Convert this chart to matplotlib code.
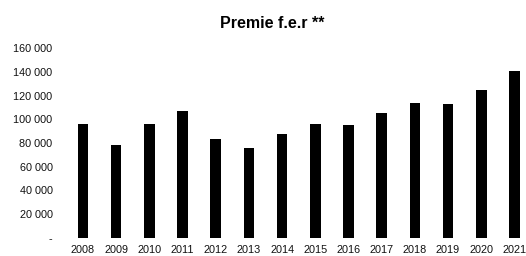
import matplotlib
matplotlib.use("Agg")
import matplotlib.pyplot as plt
from matplotlib.ticker import FuncFormatter

plt.rcParams['font.family'] = ['Liberation Sans', 'DejaVu Sans']

years = ['2008', '2009', '2010', '2011', '2012', '2013', '2014',
         '2015', '2016', '2017', '2018', '2019', '2020', '2021']
premie = [96000, 78000, 96000, 107000, 83500, 75500, 88000,
          96000, 95000, 105000, 114000, 112500, 124500, 141000]


def fmt(v, pos):
    if v == 0:
        return '-'
    return '{:,.0f}'.format(v).replace(',', ' ')


fig = plt.figure(figsize=(5.26, 2.56), dpi=100)
ax = fig.add_axes([66.4/526, 18/256, 464.6/526, 190/256])

x = range(len(years))
ax.bar(x, premie, width=0.32, color='black')

ax.set_xlim(-0.5, len(years) - 0.5)
ax.set_ylim(0, 160000)
ax.set_yticks(range(0, 160001, 20000))
ax.yaxis.set_major_formatter(FuncFormatter(fmt))
ax.set_xticks(list(x))
ax.set_xticklabels(years)

for s in ax.spines.values():
    s.set_visible(False)
ax.tick_params(axis='both', length=0, labelsize=7.8, colors='#111111')
ax.tick_params(axis='y', pad=10)
ax.tick_params(axis='x', pad=5)

fig.text(0.517, 0.91, 'Premie f.e.r **', ha='center', va='center',
         fontsize=11.5, fontweight='bold')

fig.savefig('out.png', dpi=100)
